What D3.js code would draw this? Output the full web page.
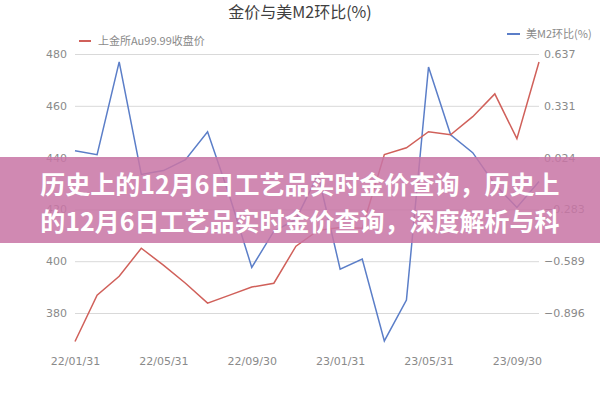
<!DOCTYPE html>
<html><head><meta charset="utf-8">
<script src="https://cdn.jsdelivr.net/npm/d3@7"></script>
<style>body{margin:0;background:#fff}svg{display:block}</style>
</head><body>
<svg id="c" width="600" height="400"></svg>
<script>
const categories = ["22/01/31","22/02/28","22/03/31","22/04/30","22/05/31","22/06/30","22/07/31","22/08/31","22/09/30","22/10/31","22/11/30","22/12/31","23/01/31","23/02/28","23/03/31","23/04/30","23/05/31","23/06/30","23/07/31","23/08/31","23/09/30","23/10/31"];
const goldPrice = [369.0,386.9,394.2,405.0,398.5,391.5,383.8,386.9,390.0,391.5,405.8,411.9,413.0,412.7,441.2,443.8,450.0,448.8,455.8,464.6,447.3,476.9];
const m2Change = [0.065,0.041,0.590,-0.076,-0.053,0.012,0.177,-0.206,-0.626,-0.412,-0.342,-0.076,-0.636,-0.577,-1.061,-0.819,0.560,0.159,0.053,-0.135,-0.271,-0.118];
const leftTicks = [380,400,420,440,460,480];
const rightTicks = [-0.896,-0.589,-0.283,0.024,0.331,0.637];
const rightTickLabels = ["\u22120.896","\u22120.589","\u22120.283","0.024","0.331","0.637"];
const xLabelCats = ["22/01/31","22/05/31","22/09/30","23/01/31","23/05/31","23/09/30"];
const titleText = "金价与美M2环比(%)";
const seriesNames = ["上金所Au99.99收盘价","美M2环比(%)"];
const bannerLines = ["历史上的12月6日工艺品实时金价查询，历史上","的12月6日工艺品实时金价查询，深度解析与科"];

const svg = d3.select("#c");
const x0 = 75, x1 = 539, yTop = 54, yBot = 313;
const x = d3.scalePoint().domain(categories).range([x0, x1]);
const yL = d3.scaleLinear().domain([380,480]).range([yBot, yTop]);
const yR = d3.scaleLinear().domain([-0.896,0.637]).range([yBot, yTop]);
const red = "#d0605a", blue = "#5b7ec8", grey = "#8a8a8a";
const font = "'DejaVu Sans', sans-serif";
const cjk = "'Noto Sans CJK SC', sans-serif";

// title
svg.append("text").attr("x",300).attr("y",18).attr("text-anchor","middle")
  .attr("font-family",cjk).attr("font-size",16).attr("fill","#404040").text(titleText);

// left axis with gridlines
const gL = svg.append("g").attr("transform",`translate(${x0},0)`)
  .call(d3.axisLeft(yL).tickValues(leftTicks).tickSize(-(x1-x0)).tickPadding(8).tickFormat(d3.format("d")));
gL.select(".domain").remove();
gL.selectAll(".tick line").attr("stroke","#d9d9d9");
gL.selectAll("text").attr("font-family",font).attr("font-size",11).attr("fill",grey);

// right axis labels
const gR = svg.append("g").attr("transform",`translate(${x1},0)`)
  .call(d3.axisRight(yR).tickValues(rightTicks).tickSize(0).tickPadding(5).tickFormat((d,i)=>rightTickLabels[i]));
gR.select(".domain").remove();
gR.selectAll("text").attr("font-family",font).attr("font-size",11).attr("fill",grey);

// x labels
const gX = svg.append("g").attr("transform",`translate(0,354)`)
  .call(d3.axisBottom(x).tickValues(xLabelCats).tickSize(0).tickPadding(3));
gX.select(".domain").remove();
gX.selectAll("text").attr("font-family",font).attr("font-size",11).attr("fill",grey);

// lines
svg.append("path").datum(m2Change).attr("fill","none").attr("stroke",blue).attr("stroke-width",1.5)
  .attr("d", d3.line().x((d,i)=>x(categories[i])).y(d=>yR(d)));
svg.append("path").datum(goldPrice).attr("fill","none").attr("stroke",red).attr("stroke-width",1.5)
  .attr("d", d3.line().x((d,i)=>x(categories[i])).y(d=>yL(d)));

// legends
svg.append("line").attr("x1",79).attr("x2",91).attr("y1",41).attr("y2",41).attr("stroke",red).attr("stroke-width",2);
svg.append("text").attr("x",98).attr("y",45).attr("font-family",cjk).attr("font-size",11).attr("fill",grey).text(seriesNames[0]);
svg.append("line").attr("x1",507).attr("x2",520).attr("y1",34).attr("y2",34).attr("stroke",blue).attr("stroke-width",2);
svg.append("text").attr("x",526).attr("y",38).attr("font-family",cjk).attr("font-size",11).attr("fill",grey).text(seriesNames[1]);

// banner
svg.append("rect").attr("x",0).attr("y",157).attr("width",600).attr("height",86)
  .attr("fill","rgb(200,118,165)").attr("opacity",0.86);
bannerLines.forEach((t,i)=>{
  svg.append("text").attr("x",300).attr("y",194+i*37).attr("text-anchor","middle")
    .attr("font-family",cjk).attr("font-weight","bold").attr("font-size",25).attr("fill","#fff").text(t);
});
</script>
</body></html>
